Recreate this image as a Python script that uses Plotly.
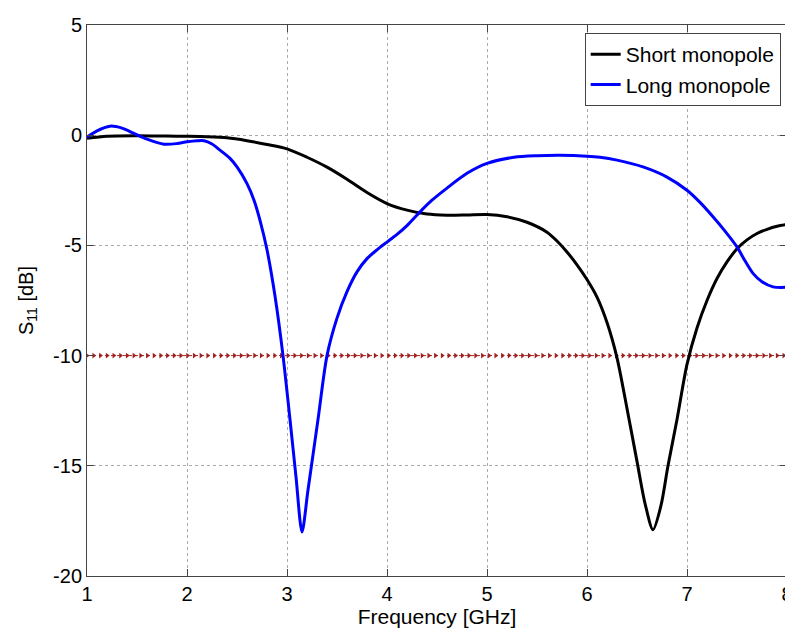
import numpy as np
import plotly.graph_objects as go

# Short monopole
short_f = [1.0, 1.2, 1.5, 1.8, 2.0, 2.2, 2.4, 2.6, 2.8, 3.0, 3.2, 3.4, 3.6, 3.8, 4.0, 4.2,
           4.4, 4.6, 4.8, 5.0, 5.2, 5.4, 5.6, 5.7, 5.8, 5.9, 6.0, 6.1, 6.2, 6.3, 6.4, 6.5,
           6.58, 6.66, 6.74, 6.81, 6.9, 7.0, 7.1, 7.2, 7.3, 7.4, 7.5, 7.6, 7.7, 7.8, 7.9, 8.0]
short_s11 = [-0.14, -0.05, -0.03, -0.04, -0.05, -0.07, -0.12, -0.25, -0.42, -0.62, -1.0, -1.45,
             -2.0, -2.6, -3.1, -3.4, -3.58, -3.63, -3.62, -3.6, -3.7, -3.95, -4.4, -4.8, -5.3,
             -5.88, -6.55, -7.35, -8.5, -10.1, -12.4, -14.8, -16.7, -17.9, -16.8, -15.0, -12.9,
             -10.4, -8.75, -7.5, -6.5, -5.75, -5.15, -4.75, -4.46, -4.27, -4.13, -4.05]

# Long monopole
long_f = [1.0, 1.1, 1.23, 1.35, 1.47, 1.6, 1.77, 1.9, 2.0, 2.1, 2.17, 2.25, 2.33, 2.43, 2.5,
          2.6, 2.67, 2.73, 2.8, 2.88, 2.96, 3.03, 3.09, 3.15, 3.21, 3.31, 3.4, 3.5, 3.6, 3.7,
          3.8, 3.9, 4.0, 4.1, 4.2, 4.33, 4.45, 4.6, 4.8, 5.0, 5.27, 5.5, 5.73, 6.0, 6.13, 6.3,
          6.56, 6.8, 7.0, 7.13, 7.26, 7.38, 7.5, 7.58, 7.66, 7.75, 7.86, 8.0]
long_s11 = [-0.09, 0.2, 0.41, 0.32, 0.08, -0.18, -0.41, -0.38, -0.3, -0.25, -0.25, -0.4, -0.68,
            -1.05, -1.44, -2.2, -2.95, -3.86, -5.2, -7.3, -10.0, -12.9, -15.5, -18.0, -16.1,
            -12.9, -10.0, -8.3, -7.1, -6.2, -5.6, -5.2, -4.85, -4.5, -4.1, -3.48, -2.95, -2.4,
            -1.73, -1.28, -1.0, -0.93, -0.91, -0.95, -1.0, -1.13, -1.44, -1.9, -2.5, -3.05,
            -3.7, -4.35, -5.07, -5.7, -6.27, -6.65, -6.88, -6.9]

threshold_db = -10
x_ticks = [1, 2, 3, 4, 5, 6, 7, 8]
y_ticks = [5, 0, -5, -10, -15, -20]

FONT = "Liberation Sans, Arial, Helvetica, sans-serif"

fig = go.Figure()

thr_x = np.arange(1, 8.0001, 0.067)
fig.add_trace(go.Scatter(
    x=thr_x, y=[threshold_db] * len(thr_x), mode="lines+markers",
    line=dict(color="#b03030", width=1, dash="dot"),
    marker=dict(symbol="triangle-right", size=5, color="#a02020"),
    showlegend=False, hoverinfo="skip"))

fig.add_trace(go.Scatter(
    x=short_f, y=short_s11, mode="lines", name="Short monopole",
    line=dict(color="#000000", width=3, shape="spline", smoothing=0.8)))
fig.add_trace(go.Scatter(
    x=long_f, y=long_s11, mode="lines", name="Long monopole",
    line=dict(color="#0000ff", width=3, shape="spline", smoothing=0.8)))

axis_common = dict(
    showline=True, linecolor="#444444", linewidth=1, mirror="ticks",
    ticks="inside", ticklen=7, tickcolor="#444444",
    showgrid=True, gridcolor="#aaaaaa", griddash="dot", gridwidth=1,
    zeroline=False, automargin=False,
    tickfont=dict(family=FONT, size=20, color="#000000"),
)

fig.update_layout(
    width=785, height=623,
    margin=dict(l=79, r=6, t=17, b=55),
    paper_bgcolor="white", plot_bgcolor="white",
    font=dict(family=FONT, size=20, color="#000000"),
    xaxis=dict(range=[1, 8], tickvals=x_ticks, ticktext=[str(v) for v in x_ticks],
               title=dict(text="Frequency [GHz]", standoff=0, font=dict(size=21)),
               **axis_common),
    yaxis=dict(range=[-20, 5], tickvals=y_ticks, ticktext=[str(v) for v in y_ticks],
               title=dict(text="S<sub>11</sub> [dB]", standoff=14, font=dict(size=20)),
               **axis_common),
    legend=dict(x=0.991, y=0.9855, xanchor="right", yanchor="top",
                bgcolor="white", bordercolor="#444444", borderwidth=1,
                font=dict(family=FONT, size=21), tracegroupgap=0),
    showlegend=True,
)

fig.write_html("out.html")
